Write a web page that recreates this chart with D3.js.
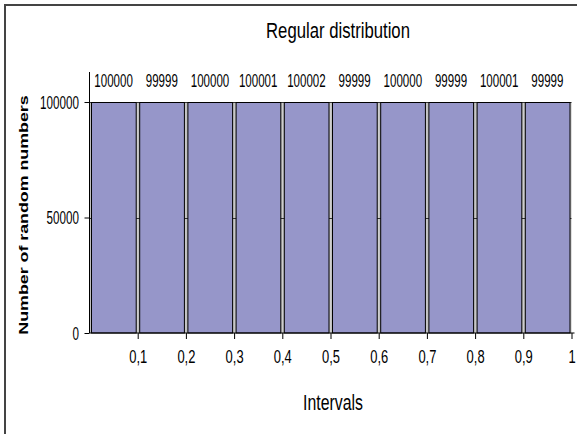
<!DOCTYPE html>
<html><head><meta charset="utf-8">
<script src="https://cdn.jsdelivr.net/npm/d3@7"></script>
<style>
html,body{margin:0;padding:0;background:#fff;}
text{font-family:"Liberation Sans",Arial,sans-serif;fill:#000;}
</style></head>
<body>
<svg id="chart" width="577" height="434"></svg>
<script>
// data
const binStarts = [0, 0.1, 0.2, 0.3, 0.4, 0.5, 0.6, 0.7, 0.8, 0.9];
const counts = [100000, 99999, 100000, 100001, 100002, 99999, 100000, 99999, 100001, 99999];
const xTicks = [0.1, 0.2, 0.3, 0.4, 0.5, 0.6, 0.7, 0.8, 0.9, 1];
const xTickLabels = ["0,1","0,2","0,3","0,4","0,5","0,6","0,7","0,8","0,9","1"];
const yTicks = [0, 50000, 100000];
const yTickLabels = ["0","50000","100000"];
const title = "Regular distribution";
const xTitle = "Intervals";
const yTitle = "Number of random numbers";
const binWidth = 0.1;

const svg = d3.select("#chart");
const W = 577, H = 434;
const mLeft = 89.5, mRight = 571.5, mTop = 72, mBottom = 333;

// frame
svg.append("path").attr("d", `M5,${H} L5,5 L${W},5`).attr("fill","none")
  .attr("stroke","#444").attr("stroke-width",2);

const x = d3.scaleLinear().domain([0, 1]).range([mLeft, mRight]);
const y = d3.scaleLinear().domain([0, 113000]).range([mBottom, mTop]);

// gray band behind bars
svg.append("g").selectAll("rect").data(binStarts).join("rect")
  .attr("x", d => x(d)).attr("width", d => x(d + binWidth) - x(d))
  .attr("y", (d,i) => y(counts[i])).attr("height", (d,i) => y(0) - y(counts[i]))
  .attr("fill", "#c0c0c0");

// gridlines
svg.append("g").selectAll("line").data(yTicks.filter(v => v > 0)).join("line")
  .attr("x1", mLeft).attr("x2", mRight).attr("y1", d => Math.round(y(d)) + 0.5).attr("y2", d => Math.round(y(d)) + 0.5)
  .attr("stroke", "#333").attr("stroke-width", 1);

// bars
svg.append("g").selectAll("rect").data(binStarts).join("rect")
  .attr("x", d => x(d) + 2).attr("width", d => x(d + binWidth) - x(d) - 3.5)
  .attr("y", (d,i) => Math.round(y(counts[i])) + 0.5)
  .attr("height", (d,i) => y(0) - Math.round(y(counts[i])) - 0.5)
  .attr("fill", "#9696c9").attr("stroke", "#000").attr("stroke-width", 1);

// y axis
const yAxis = d3.axisLeft(y).tickValues(yTicks).tickSize(5).tickPadding(0)
  .tickFormat((d,i) => yTickLabels[i]);
const gy = svg.append("g").attr("transform", `translate(${mLeft},0)`).call(yAxis);
gy.select(".domain").attr("d", `M-0,${mTop}V${mBottom}`).attr("stroke","#000");
gy.selectAll(".tick line").attr("stroke","#000");
const syy = 0.63;
gy.selectAll(".tick text").attr("font-size", 18.5).attr("x", -10.5 / syy).attr("dy", "0.34em")
  .attr("transform", `scale(${syy},1)`).attr("font-family", '"Liberation Sans",Arial,sans-serif').attr("fill","#000");

// x axis
const xAxis = d3.axisBottom(x).tickValues(xTicks).tickSize(6).tickPadding(0)
  .tickFormat((d,i) => xTickLabels[i]);
const gx = svg.append("g").attr("transform", `translate(0,${mBottom})`).call(xAxis);
gx.select(".domain").attr("d", `M${mLeft},0H${mRight + 3}`).attr("stroke","#000");
gx.selectAll(".tick line").attr("stroke","#000");
gx.selectAll(".tick text").attr("font-size", 18.5).attr("y", 30.5).attr("dy", 0)
  .attr("transform", "scale(0.7,1)").attr("font-family", '"Liberation Sans",Arial,sans-serif').attr("fill","#000");

// data labels
svg.append("g").selectAll("text").data(binStarts).join("text")
  .attr("transform", d => `translate(${x(d + binWidth / 2)},86.5) scale(0.66,1)`)
  .attr("text-anchor", "middle").attr("font-size", 17.5)
  .text((d,i) => counts[i]);

// title
svg.append("text").attr("transform", "translate(338,38) scale(0.76,1)")
  .attr("text-anchor","middle").attr("font-size", 22).text(title);

// x title
svg.append("text").attr("transform", "translate(333,410) scale(0.72,1)")
  .attr("text-anchor","middle").attr("font-size", 22).text(xTitle);

// y title
svg.append("text").attr("transform", "translate(28,215) rotate(-90) scale(1.3,1)")
  .attr("text-anchor","middle").attr("font-size", 13.7).attr("font-weight","bold").text(yTitle);
</script>
</body></html>
